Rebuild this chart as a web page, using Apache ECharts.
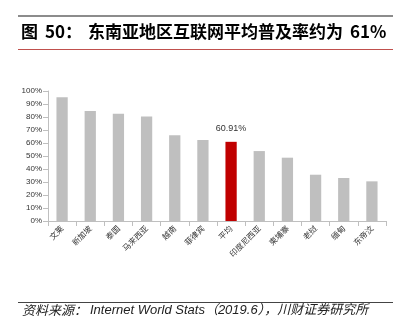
<!DOCTYPE html>
<html><head><meta charset="utf-8">
<script src="https://cdn.jsdelivr.net/npm/echarts@6/dist/echarts.min.js"></script>
<style>html,body{margin:0;padding:0;background:#fff}#c{width:400px;height:332px}</style>
</head><body><div id="c"></div>
<script>
var categories = ['文莱','新加坡','泰国','马来西亚','越南','菲律宾','平均','印度尼西亚','柬埔寨','老挝','缅甸','东帝汶'];
var values = [95.1, 84.6, 82.5, 80.4, 65.9, 62.3, 60.91, 53.8, 48.7, 35.6, 33.1, 30.5];
var highlightName = '平均';
var yTicks = [0,10,20,30,40,50,60,70,80,90,100];

var chart = echarts.init(document.getElementById('c'), null, {renderer:'canvas'});
var cjk = '"Noto Sans CJK SC", sans-serif';
var tf = 'bold 17px '+cjk;
chart.setOption({
  animation:false,
  backgroundColor:'#fff',
  grid:{left:48, right:14, top:91, bottom:111},
  graphic:[
    {type:'rect', shape:{x:18,y:15,width:375,height:2}, style:{fill:'#8c8c8c'}},
    {type:'text', x:21, y:23, style:{text:'图', font:tf, fill:'#000'}},
    {type:'text', x:45, y:23, style:{text:'50：', font:tf, fill:'#000'}},
    {type:'text', x:88, y:23, style:{text:'东南亚地区互联网平均普及率约为', font:tf, fill:'#000'}},
    {type:'text', x:350, y:23, style:{text:'61%', font:tf, fill:'#000'}},
    {type:'rect', shape:{x:18,y:49,width:375,height:1}, style:{fill:'#c0504d'}},
    {type:'rect', shape:{x:18,y:302,width:375,height:1}, style:{fill:'#444'}},
    {type:'text', x:22, y:304, style:{text:'资料来源：', font:'italic 13px '+cjk, fill:'#222'}},
    {type:'text', x:90, y:304, style:{text:'Internet World Stats（2019.6），川财证券研究所', font:'italic 13px "Liberation Sans", '+cjk, fill:'#222'}}
  ],
  xAxis:{
    type:'category', data:categories,
    axisLine:{lineStyle:{color:'#bfbfbf'}},
    axisTick:{show:true, alignWithLabel:false, lineStyle:{color:'#bfbfbf'}},
    axisLabel:{rotate:45, fontSize:8, color:'#333', fontFamily:cjk, margin:6, interval:0}
  },
  yAxis:{
    type:'value', min:0, max:100, interval:10,
    axisLine:{show:true, lineStyle:{color:'#bfbfbf'}},
    axisTick:{show:true, lineStyle:{color:'#bfbfbf'}},
    splitLine:{show:false},
    axisLabel:{formatter:function(v){return v+'%';}, fontSize:8, color:'#333', fontFamily:'"Liberation Sans", sans-serif', margin:6}
  },
  series:[{
    type:'bar', barWidth:'40%',
    data:values.map(function(v,i){
      var hi = categories[i]===highlightName;
      return {value:v, itemStyle:{color: hi ? '#c00000' : '#bfbfbf'},
        label:{show:hi, position:'top', distance:9, formatter:function(p){return p.value.toFixed(2)+'%';}, fontSize:9, color:'#333', fontFamily:'"Liberation Sans", sans-serif'}};
    })
  }]
});
</script></body></html>
